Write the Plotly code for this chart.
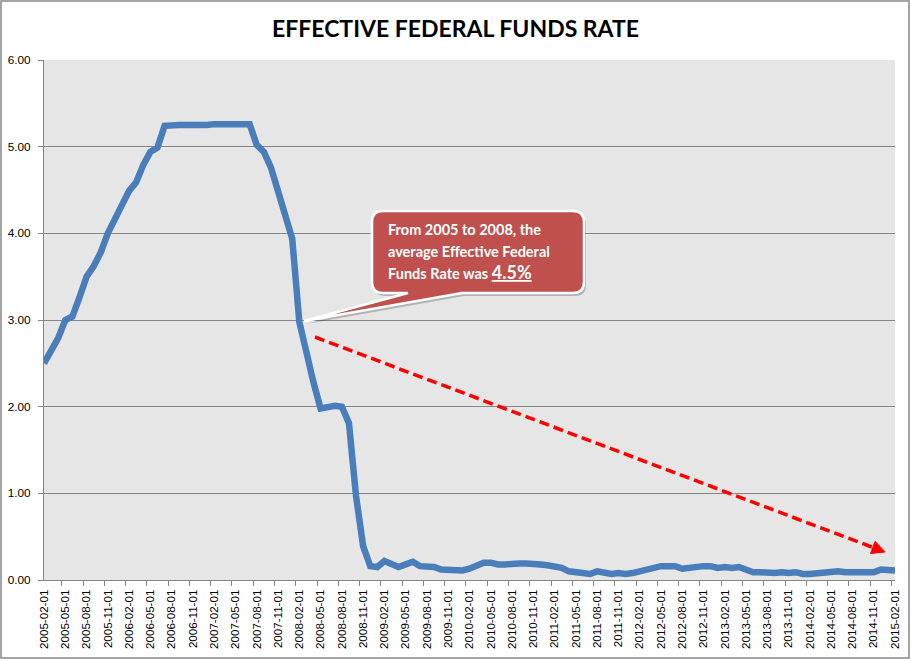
import plotly.graph_objects as go
import pandas as pd

# ---------------- data ----------------
months = pd.date_range("2005-02-01", "2015-02-01", freq="MS").strftime("%Y-%m-%d").tolist()
rate = [
    2.50, 2.63, 2.79, 3.00, 3.04, 3.26, 3.50, 3.62, 3.78, 4.00, 4.16,
    4.29, 4.49, 4.59, 4.79, 4.94, 4.99, 5.24, 5.25, 5.25, 5.25, 5.25, 5.24,
    5.25, 5.26, 5.26, 5.25, 5.25, 5.25, 5.26, 5.02, 4.94, 4.76, 4.49, 4.24,
    3.94, 2.98, 2.61, 2.28, 1.98, 2.00, 2.01, 2.00, 1.81, 0.97, 0.39, 0.16,
    0.15, 0.22, 0.18, 0.15, 0.18, 0.21, 0.16, 0.16, 0.15, 0.12, 0.12, 0.12,
    0.11, 0.13, 0.16, 0.20, 0.20, 0.18, 0.18, 0.19, 0.19, 0.19, 0.19, 0.18,
    0.17, 0.16, 0.14, 0.10, 0.09, 0.09, 0.07, 0.10, 0.08, 0.07, 0.08, 0.07,
    0.08, 0.10, 0.13, 0.14, 0.16, 0.16, 0.16, 0.13, 0.14, 0.16, 0.16, 0.16,
    0.14, 0.15, 0.14, 0.15, 0.11, 0.09, 0.09, 0.08, 0.08, 0.09, 0.08, 0.09,
    0.07, 0.07, 0.08, 0.09, 0.09, 0.10, 0.09, 0.09, 0.09, 0.09, 0.09, 0.12,
    0.11, 0.11,
]
tick_labels = months[::3]
y_ticks = [0, 1, 2, 3, 4, 5, 6]
title_text = "EFFECTIVE FEDERAL FUNDS RATE"
callout_lines = ["From 2005 to 2008, the", "average Effective Federal", "Funds Rate was "]
callout_value = "4.5%"

# ---------------- layout helpers (pixel -> paper) ----------------
W, H = 911, 661
PL, PR, PT, PB = 44, 895, 60, 580


def px(x):
    return (x - PL) / (PR - PL)


def py(y):
    return (PB - y) / (PB - PT)


def path_from(points):
    s = ""
    for cmd, pts in points:
        if cmd == "L":
            for a, b in pts:
                s += f"L {px(a):.5f},{py(b):.5f} "
        else:
            s += cmd + " " + " ".join(f"{px(a):.5f},{py(b):.5f}" for a, b in pts) + " "
    return s + "Z"


fig = go.Figure()
fig.add_trace(go.Scatter(
    x=months, y=rate, mode="lines",
    line=dict(color="#4A7EBB", width=6.5),
    hoverinfo="x+y",
))

grid = "#868686"
tick_font = "Liberation Sans, Arial, sans-serif"
fig.update_layout(
    width=W, height=H, autosize=False,
    margin=dict(l=PL, r=W - PR, t=PT, b=H - PB, autoexpand=False),
    plot_bgcolor="#E6E6E6", paper_bgcolor="white",
    showlegend=False,
    font=dict(family=tick_font, size=12, color="black"),
    xaxis=dict(
        type="category", tickmode="array", tickvals=tick_labels, ticktext=tick_labels,
        tickangle=-90, tickson="boundaries", ticks="outside", ticklen=5, tickcolor=grid,
        showline=True, linecolor=grid, linewidth=1, showgrid=False, zeroline=False,
        automargin=False, ticklabelstandoff=4,
        tickfont=dict(family=tick_font, size=11.6, color="black"),
    ),
    yaxis=dict(
        range=[0, 6], tickvals=y_ticks, tickformat=".2f", ticks="outside", ticklen=5,
        tickcolor=grid, showline=True, linecolor=grid, linewidth=1,
        showgrid=True, gridcolor=grid, gridwidth=1, zeroline=False, automargin=False,
        ticklabelstandoff=5,
        tickfont=dict(family=tick_font, size=11.8, color="black"),
    ),
)

shapes = []
# outer chart border
shapes.append(dict(type="rect", xref="paper", yref="paper",
                   x0=px(1), x1=px(909), y0=py(1), y1=py(658),
                   line=dict(color="#868686", width=1.5), layer="above"))

# callout
bx0, bx1, by0, by1, r = 372, 584, 211, 293, 11
tip = (304, 321)
b_left, b_right = 408, 462


def callout(dx, dy):
    return path_from([
        ("M", [(bx0 + r + dx, by0 + dy)]),
        ("L", [(bx1 - r + dx, by0 + dy)]),
        ("Q", [(bx1 + dx, by0 + dy), (bx1 + dx, by0 + r + dy)]),
        ("L", [(bx1 + dx, by1 - r + dy)]),
        ("Q", [(bx1 + dx, by1 + dy), (bx1 - r + dx, by1 + dy)]),
        ("L", [(b_right + dx, by1 + dy), (tip[0] + dx, tip[1] + dy), (b_left + dx, by1 + dy),
               (bx0 + r + dx, by1 + dy)]),
        ("Q", [(bx0 + dx, by1 + dy), (bx0 + dx, by1 - r + dy)]),
        ("L", [(bx0 + dx, by0 + r + dy)]),
        ("Q", [(bx0 + dx, by0 + dy), (bx0 + r + dx, by0 + dy)]),
    ])


shapes.append(dict(type="path", xref="paper", yref="paper", path=callout(2, 3),
                   fillcolor="rgba(0,0,0,0.22)", line=dict(width=0), layer="above"))
shapes.append(dict(type="path", xref="paper", yref="paper", path=callout(0, 0),
                   fillcolor="#C0504D", line=dict(color="white", width=2.5), layer="above"))

# red dashed arrow
ax0, ay0 = 315, 337
ax1, ay1 = 885, 552
dxv, dyv = ax1 - ax0, ay1 - ay0
L = (dxv ** 2 + dyv ** 2) ** 0.5
ux, uy = dxv / L, dyv / L
hl, hw = 13, 6.5
bxp, byp = ax1 - ux * hl, ay1 - uy * hl
shapes.append(dict(type="line", xref="paper", yref="paper",
                   x0=px(ax0), y0=py(ay0), x1=px(bxp), y1=py(byp),
                   line=dict(color="#FF0000", width=3.5, dash="10px,5px"), layer="above"))
shapes.append(dict(type="path", xref="paper", yref="paper",
                   path=path_from([("M", [(ax1, ay1)]),
                                   ("L", [(bxp - uy * hw, byp + ux * hw), (bxp + uy * hw, byp - ux * hw)])]),
                   fillcolor="#FF0000", line=dict(color="#FF0000", width=1), layer="above"))
fig.update_layout(shapes=shapes)

annotations = [
    dict(text=f"<b>{title_text}</b>", xref="paper", yref="paper", x=px(455), y=py(28),
         xanchor="center", yanchor="middle", showarrow=False,
         font=dict(family="Lato", size=23, color="black")),
]
line_y = [230, 251, 272]
for i, t in enumerate(callout_lines):
    txt = f"<b>{t}</b>"
    if i == 2:
        txt += f"<b><u><span style='font-size:18px'>{callout_value}</span></u></b>"
    annotations.append(dict(text=txt, xref="paper", yref="paper", x=px(386), y=py(line_y[i]),
                            xanchor="left", yanchor="middle", showarrow=False, align="left",
                            font=dict(family="Lato", size=14.5, color="white")))
fig.update_layout(annotations=annotations)

fig.write_html("out.html",
               config={"displayModeBar": False, "responsive": False},
               post_script="document.body.style.margin='0';document.body.style.overflow='hidden';")
